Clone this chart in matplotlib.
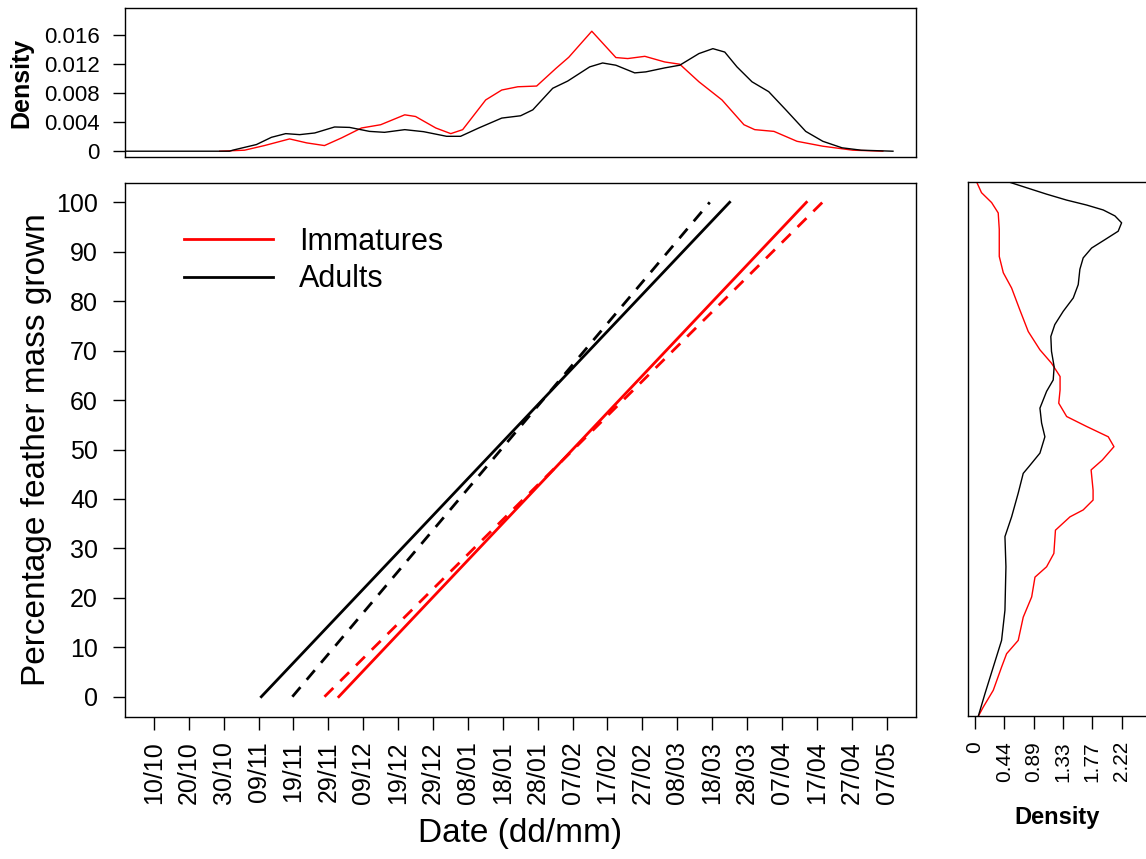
import numpy as np
import matplotlib.pyplot as plt

plt.rcParams['font.family'] = ['Liberation Sans', 'DejaVu Sans']

# day offsets from 10 Oct (leap year season) and their date labels
tick_days = np.arange(0, 211, 10)
tick_labels = ['10/10', '20/10', '30/10', '09/11', '19/11', '29/11', '09/12',
               '19/12', '29/12', '08/01', '18/01', '28/01', '07/02', '17/02',
               '27/02', '08/03', '18/03', '28/03', '07/04', '17/04', '27/04',
               '07/05']

# fitted moult lines: day at 0% and at 100% feather mass grown
pct_ends = [0, 100]
adult_fit = [30.8, 165.0]
adult_fit_alt = [39.7, 159.3]
imm_fit = [53.0, 187.0]
imm_fit_alt = [48.9, 191.6]

# density of sampling dates (top panel)
adult_top_day = [-8.4, 21.7, 22.6, 29.4, 33.7, 37.8, 41.8, 46.1, 51.8, 56.1,
                 61.8, 66.1, 71.9, 77.3, 83.9, 87.9, 93.1, 99.7, 105.1, 108.6,
                 114.3, 118.6, 124.9, 128.6, 132.4, 137.8, 141.0, 146.4, 150.7,
                 156.2, 160.2, 163.6, 167.1, 171.4, 176.2, 181.1, 186.8, 191.7,
                 197.2, 202.7, 211.8]
adult_top_dens = [0, 0, 0.00014, 0.00092, 0.00192, 0.00243, 0.00229, 0.00252,
                  0.00335, 0.00329, 0.00274, 0.00261, 0.00298, 0.0027, 0.00206,
                  0.00206, 0.00321, 0.00458, 0.0049, 0.00572, 0.0087, 0.0097,
                  0.01166, 0.0122, 0.01189, 0.01083, 0.01097, 0.01152, 0.01189,
                  0.0135, 0.01418, 0.01371, 0.01166, 0.0096, 0.00823, 0.00572,
                  0.00274, 0.00137, 0.00047, 0.00014, 0]
imm_top_day = [18.9, 26.0, 31.7, 38.9, 43.8, 48.9, 53.8, 59.5, 65.0, 71.9,
               75.0, 80.8, 85.1, 88.5, 95.1, 99.7, 104.3, 109.7, 115.2, 118.9,
               125.5, 132.4, 135.8, 140.7, 146.4, 150.7, 156.2, 162.8, 169.1,
               172.2, 177.7, 184.3, 191.7, 200.3, 208.9]
imm_top_dens = [0, 0.00014, 0.00078, 0.0017, 0.00115, 0.00078, 0.00184,
                0.00321, 0.00366, 0.00503, 0.0048, 0.00321, 0.00243, 0.00298,
                0.00709, 0.00846, 0.00891, 0.00901, 0.01144, 0.01299, 0.01659,
                0.01295, 0.01281, 0.01312, 0.01234, 0.01203, 0.0096, 0.00709,
                0.00366, 0.00298, 0.00274, 0.00137, 0.00069, 0.00014, 0]

# density of percentage grown (right panel)
adult_side_pct = [104.1, 102.9, 101.6, 100.4, 99.4, 98.4, 97.2, 95.8, 94.1,
                  92.4, 90.7, 88.7, 86.4, 83.3, 80.6, 77.9, 75.2, 72.8, 69.8,
                  66.7, 64.0, 61.7, 58.3, 55.3, 52.5, 49.2, 46.5, 45.1, 41.1,
                  36.3, 32.3, 26.2, 17.4, 11.3, 5.9, 0.5, -4.1]
adult_side_dens = [0.505, 0.783, 1.086, 1.389, 1.692, 1.944, 2.121, 2.222,
                   2.17, 1.97, 1.768, 1.64, 1.59, 1.565, 1.49, 1.338, 1.21,
                   1.15, 1.16, 1.2, 1.186, 1.086, 0.985, 1.01, 1.06, 0.985,
                   0.82, 0.732, 0.656, 0.556, 0.455, 0.47, 0.455, 0.404, 0.278,
                   0.152, 0.05]
imm_side_pct = [104.1, 101.9, 99.9, 97.8, 94.5, 89.0, 85.7, 82.6, 78.2, 73.8,
                70.1, 67.4, 64.7, 62.0, 59.3, 56.6, 54.6, 52.5, 50.5, 47.8,
                45.8, 41.7, 39.7, 37.7, 36.3, 33.6, 28.9, 26.2, 24.1, 20.1,
                16.0, 11.3, 8.6, 5.9, 1.2, -2.2, -4.1]
imm_side_dens = [0.025, 0.1, 0.253, 0.353, 0.369, 0.369, 0.43, 0.556, 0.68,
                 0.808, 0.985, 1.16, 1.29, 1.29, 1.27, 1.39, 1.69, 2.02, 2.106,
                 1.93, 1.76, 1.79, 1.79, 1.64, 1.44, 1.22, 1.196, 1.086, 0.91,
                 0.86, 0.732, 0.656, 0.48, 0.404, 0.278, 0.126, 0.05]
side_ticks = np.arange(6) * 4 / 9
side_labels = ['0', '0.44', '0.89', '1.33', '1.77', '2.22']

W, H = 1146, 859
fig = plt.figure(figsize=(W / 100, H / 100), dpi=100)


def box(left, top, right, bottom):
    ax = fig.add_axes([left / W, 1 - bottom / H, (right - left) / W,
                       (bottom - top) / H])
    for s in ax.spines.values():
        s.set_linewidth(1.0)
    ax.tick_params(direction='out', length=9, width=1, color='black')
    return ax


ax = box(124.5, 182.5, 916, 716.5)
ax_top = box(124.5, 8.3, 916, 156.7)
ax_side = box(968.3, 182.3, 1149.2, 716)

# main panel
ax.plot(imm_fit, pct_ends, color='red', lw=2, label='Immatures')
ax.plot(adult_fit, pct_ends, color='black', lw=2, label='Adults')
ax.plot(imm_fit_alt, pct_ends, color='red', lw=2, dashes=(4.5, 3.5))
ax.plot(adult_fit_alt, pct_ends, color='black', lw=2, dashes=(4.5, 3.5))
ax.set_xlim(-8.4, 218.4)
ax.set_ylim(-4, 104)
ax.set_xticks(tick_days)
ax.set_xticklabels(tick_labels, rotation=90, fontsize=18)
ax.set_yticks(np.arange(0, 101, 10))
ax.tick_params(axis='y', labelsize=18, pad=10)
ax.tick_params(axis='x', pad=9)
ax.set_xlabel('Date (dd/mm)', fontsize=24)
ax.xaxis.set_label_coords(0.5, -0.22)
ax.xaxis.label.set_va('center')
ax.set_ylabel('Percentage feather mass grown', fontsize=24)
ax.yaxis.set_label_coords(-0.111, 0.5)
ax.yaxis.label.set_va('center')
ax.legend(loc='upper left', bbox_to_anchor=(0.06, 0.94), frameon=False,
          fontsize=22, handlelength=2.9, handletextpad=0.85, labelspacing=0.25,
          borderaxespad=0)

# top density panel
ax_top.plot(imm_top_day, imm_top_dens, color='red', lw=1.0)
ax_top.plot(adult_top_day, adult_top_dens, color='black', lw=1.0)
ax_top.set_xlim(-8.4, 218.4)
ax_top.set_ylim(-0.00076, 0.01976)
ax_top.set_xticks([])
ax_top.set_yticks([0, 0.004, 0.008, 0.012, 0.016])
ax_top.set_yticklabels(['0', '0.004', '0.008', '0.012', '0.016'])
ax_top.tick_params(axis='y', labelsize=16, pad=9)
ax_top.set_ylabel('Density', fontsize=18, fontweight='bold')
ax_top.yaxis.set_label_coords(-0.13, 0.5)
ax_top.yaxis.label.set_va('center')

# side density panel
ax_side.plot(imm_side_dens, imm_side_pct, color='red', lw=1.0)
ax_side.plot(adult_side_dens, adult_side_pct, color='black', lw=1.0)
ax_side.set_xlim(-0.1, 2.64)
ax_side.set_ylim(-4, 104)
ax_side.set_yticks([])
ax_side.set_xticks(side_ticks)
ax_side.set_xticklabels(side_labels, rotation=90, fontsize=15)
ax_side.tick_params(axis='x', pad=9)
ax_side.set_xlabel('Density', fontsize=17, fontweight='bold')
ax_side.xaxis.set_label_coords(0.493, -0.191)
ax_side.xaxis.label.set_va('center')

fig.savefig('out.png', dpi=100)
